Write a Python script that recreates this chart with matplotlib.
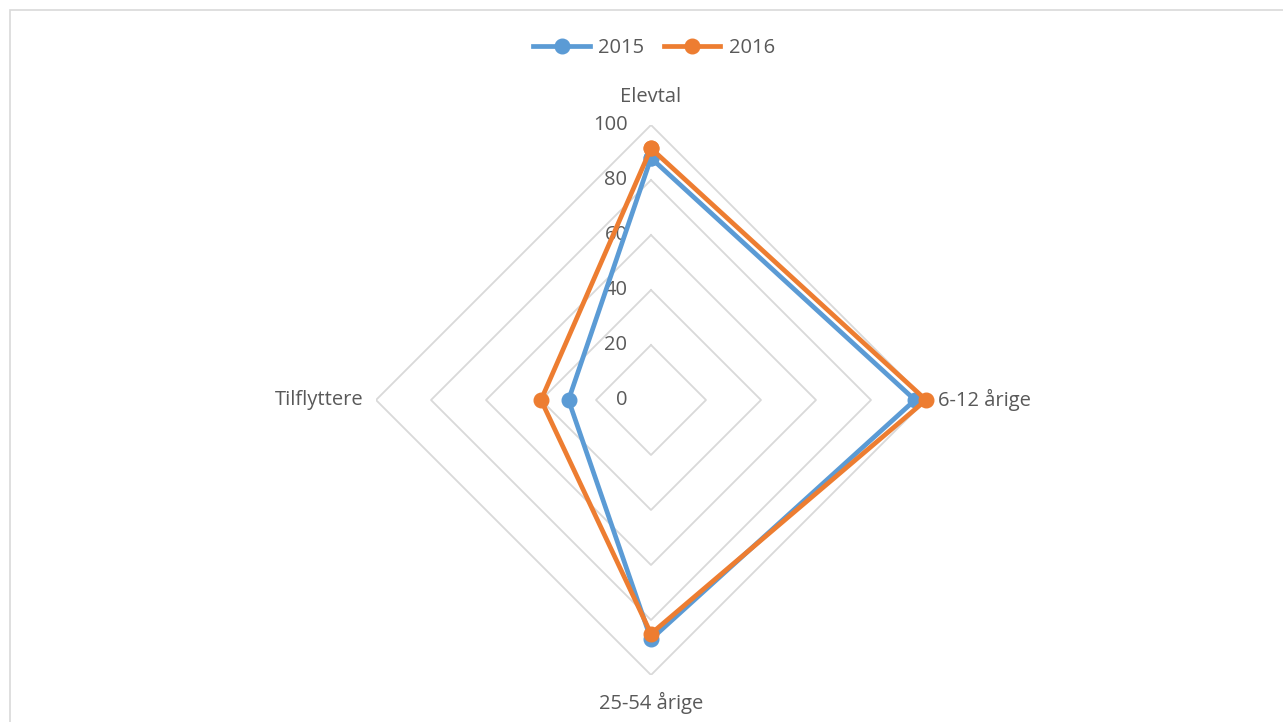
import numpy as np
import matplotlib
matplotlib.use("Agg")
import matplotlib.pyplot as plt
from matplotlib.patches import Rectangle
from matplotlib.transforms import offset_copy

categories = ["Elevtal", "6-12 årige", "25-54 årige", "Tilflyttere"]
years = ["2015", "2016"]
values_2015 = [88, 96, 87, 30]
values_2016 = [91.5, 100, 85, 40]
ticks = [0, 20, 40, 60, 80, 100]
colors = ["#5B9BD5", "#ED7D31"]

plt.rcParams['font.family'] = ['Open Sans', 'DejaVu Sans']
txt = "#595959"
grid_c = "#D9D9D9"
fs = 14.5

fig = plt.figure(figsize=(12.83, 7.22), dpi=100)
fig.patches.append(Rectangle((10 / 1283, -0.01), 1.0, (722 - 10) / 722 + 0.01,
                             transform=fig.transFigure, fill=False,
                             edgecolor="#D9D9D9", linewidth=1.2))

ax = fig.add_axes([(651 - 275) / 1283, (722 - 400 - 275) / 722, 550 / 1283, 550 / 722],
                  projection="polar")
ax.set_theta_offset(np.pi / 2)
ax.set_theta_direction(-1)
ax.set_ylim(0, 100)
ax.spines["polar"].set_visible(False)
ax.grid(False)
ax.set_xticks([])
ax.set_yticks([])
ax.patch.set_alpha(0)

angles = np.linspace(0, 2 * np.pi, len(categories), endpoint=False)
closed = np.append(angles, angles[0])

# diamond gridlines
for t in ticks[1:]:
    ax.plot(closed, [t] * len(closed), color=grid_c, lw=1.3, zorder=1)

tick_tr = offset_copy(ax.transData, fig=fig, x=-17, y=0, units="points")
for t in ticks:
    ax.text(0, t, str(t), transform=tick_tr,
            ha="right", va="center", fontsize=fs, color=txt)

for vals, lab, c in zip([values_2015, values_2016], years, colors):
    v = np.append(vals, vals[0])
    ax.plot(closed, v, color=c, lw=3.4, marker="o", markersize=10.5,
            label=lab, zorder=3, clip_on=False)

# category labels
ax.text(angles[0], 110, categories[0], ha="center", va="center", fontsize=fs, color=txt)
ax.text(angles[1], 104.5, categories[1], ha="left", va="center", fontsize=fs, color=txt)
ax.text(angles[2], 110, categories[2], ha="center", va="center", fontsize=fs, color=txt)
ax.text(angles[3], 104.5, categories[3], ha="right", va="center", fontsize=fs, color=txt)

fig.legend(loc="center", bbox_to_anchor=(654 / 1283, 1 - 48 / 722), ncol=2,
           frameon=False, fontsize=fs, handlelength=2.8, columnspacing=1.0,
           handletextpad=0.4, labelcolor=txt)

fig.savefig("out.png", dpi=100)
